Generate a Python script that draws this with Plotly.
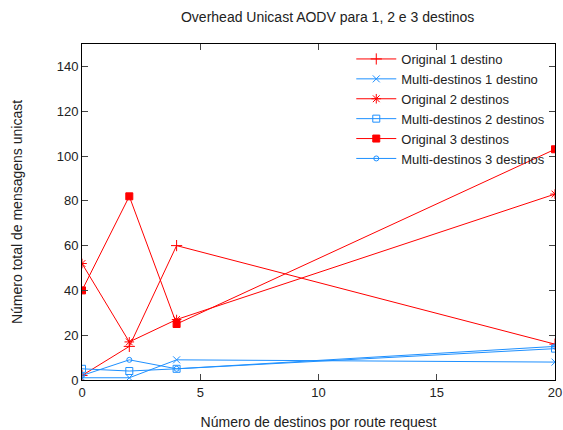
import plotly.graph_objects as go

x_vals = [0, 2, 4, 20]
orig1 = [2, 15, 60, 16]
multi1 = [1, 1, 9, 8]
orig2 = [52, 17, 27, 83]
multi2 = [5, 4, 5, 14]
orig3 = [40, 82, 25, 103]
multi3 = [2, 9, 5, 15]

names = ["Original 1 destino", "Multi-destinos 1 destino", "Original 2 destinos",
         "Multi-destinos 2 destinos", "Original 3 destinos", "Multi-destinos 3 destinos"]
series = [orig1, multi1, orig2, multi2, orig3, multi3]

RED = "#ff0000"
BLUE = "#1e90ff"
styles = [
    (RED, "cross-thin", 8),
    (BLUE, "x-thin", 7),
    (RED, "asterisk-open", 8),
    (BLUE, "square-open", 7),
    (RED, "square", 7),
    (BLUE, "circle-open", 5),
]

fig = go.Figure()
for name, ys, (col, sym, sz) in zip(names, series, styles):
    fig.add_trace(go.Scatter(
        x=x_vals, y=ys, name=name, mode="lines+markers",
        line=dict(color=col, width=1),
        marker=dict(symbol=sym, size=sz, color=col, line=dict(color=col, width=1)),
    ))

font = dict(family="Liberation Sans, Arial, sans-serif", size=13, color="#222")
fig.update_layout(
    width=563, height=430,
    margin=dict(l=82, r=8, t=44, b=50),
    paper_bgcolor="white", plot_bgcolor="white",
    font=font,
    title=dict(text="Overhead Unicast AODV para 1, 2 e 3 destinos", x=0.582, xanchor="center",
               y=0.961, yanchor="middle", font=dict(size=14)),
    showlegend=True,
    legend=dict(x=0.99, y=1.0, xanchor="right", yanchor="top", bgcolor="rgba(0,0,0,0)",
                font=dict(size=13), tracegroupgap=0, itemwidth=40),
    xaxis=dict(range=[0, 20], tickvals=[0, 5, 10, 15, 20], ticks="inside", ticklen=6,
               showline=True, linecolor="black", linewidth=1, mirror="ticks",
               showgrid=False, zeroline=False, automargin=False,
               title=dict(text="Número de destinos por route request", standoff=19,
                          font=dict(size=14))),
    yaxis=dict(range=[0, 150], tickvals=[0, 20, 40, 60, 80, 100, 120, 140], ticks="inside", ticklen=6,
               showline=True, linecolor="black", linewidth=1, mirror="ticks",
               showgrid=False, zeroline=False, automargin=False,
               title=dict(text="Número total de mensagens unicast", standoff=30,
                          font=dict(size=14))),
)

fig.write_html("out.html", config={"displayModeBar": False},
               post_script="document.body.style.margin='0';document.body.style.overflow='hidden';")
